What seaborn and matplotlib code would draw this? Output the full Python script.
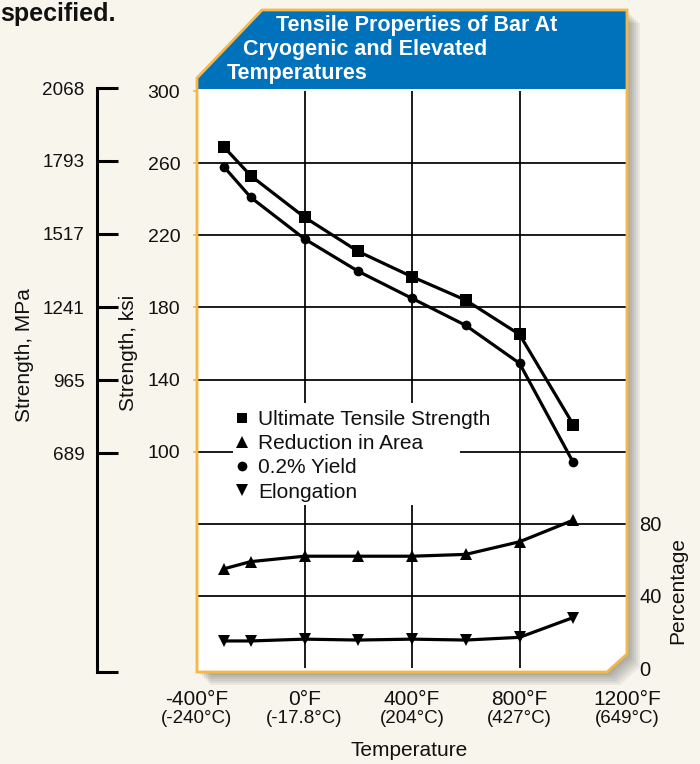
import numpy as np
import pandas as pd
import matplotlib
matplotlib.use("Agg")
import matplotlib.pyplot as plt
import seaborn as sns
from matplotlib.patches import Polygon, Rectangle
from matplotlib.lines import Line2D

# ---------------- data ----------------
temp_f = [-300, -200, 0, 200, 400, 600, 800, 1000]
uts_ksi = [269, 253, 230, 211, 197, 184, 165, 115]
yield_ksi = [258, 241, 218, 200, 185, 170, 149, 94]
reduction_pct = [55, 59, 62, 62, 62, 63, 70, 82]
elongation_pct = [15, 15, 16, 15.5, 16, 15.5, 17, 28]

x_ticks_f = [-400, 0, 400, 800, 1200]
x_labels_f = ["-400°F", "0°F", "400°F", "800°F", "1200°F"]
x_labels_c = ["(-240°C)", "(-17.8°C)", "(204°C)", "(427°C)", "(649°C)"]
ksi_ticks = [100, 140, 180, 220, 260, 300]
mpa_labels = ["689", "965", "1241", "1517", "1793", "2068"]
pct_ticks = [0, 40, 80]
grid_ksi = [20, 60, 100, 140, 180, 220, 260]
grid_f = [0, 400, 800]

series_names = ["Ultimate Tensile Strength", "Reduction in Area", "0.2% Yield", "Elongation"]
series_markers = ["s", "^", "o", "v"]

# ---------------- style ----------------
sns.set_theme(style="white")
plt.rcParams["font.family"] = ["Liberation Sans", "DejaVu Sans"]

BG = "#F7F5EC"
BLUE = "#0072BC"
ORANGE = "#F5B746"
INK = "#111111"

W, H = 700, 764
fig = plt.figure(figsize=(W / 100, H / 100), dpi=100, facecolor=BG)


def pf(x, y):
    return (x / W, 1 - y / H)


def poly(pts, **kw):
    p = Polygon([pf(x, y) for x, y in pts], closed=True, transform=fig.transFigure, **kw)
    fig.patches.append(p)
    return p


frame = [(197, 78), (262, 10), (627, 10), (627, 654), (607, 672), (197, 672)]
# drop shadow
for off in [13, 11, 9, 7, 5, 3]:
    poly([(x + off, y + off) for x, y in frame], facecolor="black", edgecolor="none",
         alpha=0.055, zorder=-5)
poly(frame, facecolor="white", edgecolor="none", zorder=-4)
poly([(197, 78), (262, 10), (627, 10), (627, 89), (197, 89)], facecolor=BLUE,
     edgecolor="none", zorder=-3)
poly(frame, facecolor="none", edgecolor=ORANGE, linewidth=2.0, zorder=6)

# ---------------- main axes ----------------
ax_l, ax_r, ax_t, ax_b = 197, 627, 91, 668
ax = fig.add_axes([ax_l / W, 1 - ax_b / H, (ax_r - ax_l) / W, (ax_b - ax_t) / H])
ax.set_facecolor("none")
for s in ax.spines.values():
    s.set_visible(False)
ax.set_xlim(-400, 1200)
ax.set_ylim(-20, 300)
ax.xaxis.remove_overlapping_locs = False
ax.yaxis.remove_overlapping_locs = False

ax.set_yticks(ksi_ticks)
ax.set_yticklabels([str(v) for v in ksi_ticks])
ax.set_yticks(grid_ksi, minor=True)
ax.set_xticks(x_ticks_f)
ax.set_xticklabels(x_labels_f)
ax.set_xticks(grid_f, minor=True)
ax.grid(False)
ax.grid(which="minor", color="black", linewidth=1.25)
ax.set_axisbelow(True)
ax.tick_params(axis="y", which="major", left=True, length=3, width=1.2, color=ORANGE,
               pad=9, labelsize=14, labelcolor=INK)
ax.tick_params(axis="x", which="major", bottom=False, length=0, pad=16, labelsize=15,
               labelcolor=INK)
ax.tick_params(which="minor", length=0)

for x, lab in zip(x_ticks_f, x_labels_c):
    ax.text(x, (ax_b - 718.5) / (ax_b - ax_t), lab, transform=ax.get_xaxis_transform(),
            ha="center", va="center", fontsize=13.5, color=INK)

# legend background box (hides grid)
ax.add_patch(Rectangle(((233 - ax_l) / (ax_r - ax_l), (ax_b - 505) / (ax_b - ax_t)),
                       (460 - 233) / (ax_r - ax_l), (505 - 403) / (ax_b - ax_t),
                       transform=ax.transAxes, facecolor="white", edgecolor="none", zorder=1.5))

df_strength = pd.DataFrame({"temp": temp_f * 2,
                            "ksi": uts_ksi + yield_ksi,
                            "series": [series_names[0]] * len(temp_f) + [series_names[2]] * len(temp_f)})
sns.lineplot(data=df_strength[df_strength.series == series_names[0]], x="temp", y="ksi",
             ax=ax, color="black", linewidth=2.3, marker="s", markersize=8,
             markeredgewidth=0, zorder=3, legend=False)
sns.lineplot(data=df_strength[df_strength.series == series_names[2]], x="temp", y="ksi",
             ax=ax, color="black", linewidth=2.3, marker="o", markersize=7,
             markeredgewidth=0, zorder=3, legend=False)
ax.set_xlabel("")
ax.set_ylabel("")

# ---------------- percentage axis ----------------
ax2 = ax.twinx()
ax2.set_ylim(0, 320)
for s in ax2.spines.values():
    s.set_visible(False)
ax2.set_yticks(pct_ticks)
ax2.set_yticklabels([str(v) for v in pct_ticks])
ax2.tick_params(axis="y", length=0, pad=9, labelsize=14.5, labelcolor=INK)
ax2.grid(False)
sns.lineplot(x=temp_f, y=reduction_pct, ax=ax2, color="black", linewidth=2.3, marker="^",
             markersize=9, markeredgewidth=0, zorder=3)
sns.lineplot(x=temp_f, y=elongation_pct, ax=ax2, color="black", linewidth=2.3, marker="v",
             markersize=9, markeredgewidth=0, zorder=3)
ax2.set_ylabel("")
ax2.set_xlim(-400, 1200)

handles = [Line2D([], [], color="black", marker=m, linestyle="none",
                  markersize=7 if m in "so" else 8, markeredgewidth=0)
           for m in series_markers]
leg = ax2.legend(handles, series_names, loc="upper left",
                 bbox_to_anchor=((234 - ax_l) / (ax_r - ax_l), (ax_b - 410) / (ax_b - ax_t)),
                 frameon=False, fontsize=15, handlelength=0.8, handletextpad=0.35,
                 labelspacing=0.25, borderpad=0, borderaxespad=0)
for t in leg.get_texts():
    t.set_color(INK)

# ---------------- MPa axis ----------------
mpa_top, mpa_bot = 88, 672
ax3 = fig.add_axes([97 / W, 1 - mpa_bot / H, 0.0001, (mpa_bot - mpa_top) / H])
ax3.set_facecolor("none")
ksi_to_mpa = 6.895
ax3.set_ylim(-20 * ksi_to_mpa, 300 * ksi_to_mpa)
for k in ["top", "right", "bottom"]:
    ax3.spines[k].set_visible(False)
ax3.spines["left"].set_linewidth(2.2)
ax3.spines["left"].set_color("black")
mpa_vals = [float(v) for v in mpa_labels]
ax3.set_yticks(mpa_vals + [-20 * ksi_to_mpa])
ax3.set_yticklabels(mpa_labels + [""])
ax3.set_xticks([])
ax3.tick_params(axis="y", left=True, direction="in", length=15, width=2.2, color="black",
                pad=9, labelsize=13.6, labelcolor=INK)
ax3.grid(False)

# ---------------- texts ----------------
fig.text(*pf(128, 353), "Strength, ksi", rotation=90, ha="center", va="center",
         fontsize=15, color=INK)
fig.text(*pf(25, 355), "Strength, MPa", rotation=90, ha="center", va="center",
         fontsize=15, color=INK)
fig.text(*pf(678, 591), "Percentage", rotation=90, ha="center", va="center",
         fontsize=15, color=INK)
fig.text(*pf(409.5, 751), "Temperature", ha="center", va="center", fontsize=15, color=INK)
fig.text(*pf(0, 21), "specified.", ha="left", va="baseline", fontsize=18,
         fontweight="bold", color=INK)

title_lines = ["Tensile Properties of Bar At", "Cryogenic and Elevated", "Temperatures"]
title_x = [276, 243, 227]
title_y = [25, 50, 74]
for txt, x, y in zip(title_lines, title_x, title_y):
    fig.text(*pf(x, y), txt, ha="left", va="center", fontsize=15.5, fontweight="bold",
             color="white")

fig.savefig("out.png", dpi=100, facecolor=BG)
